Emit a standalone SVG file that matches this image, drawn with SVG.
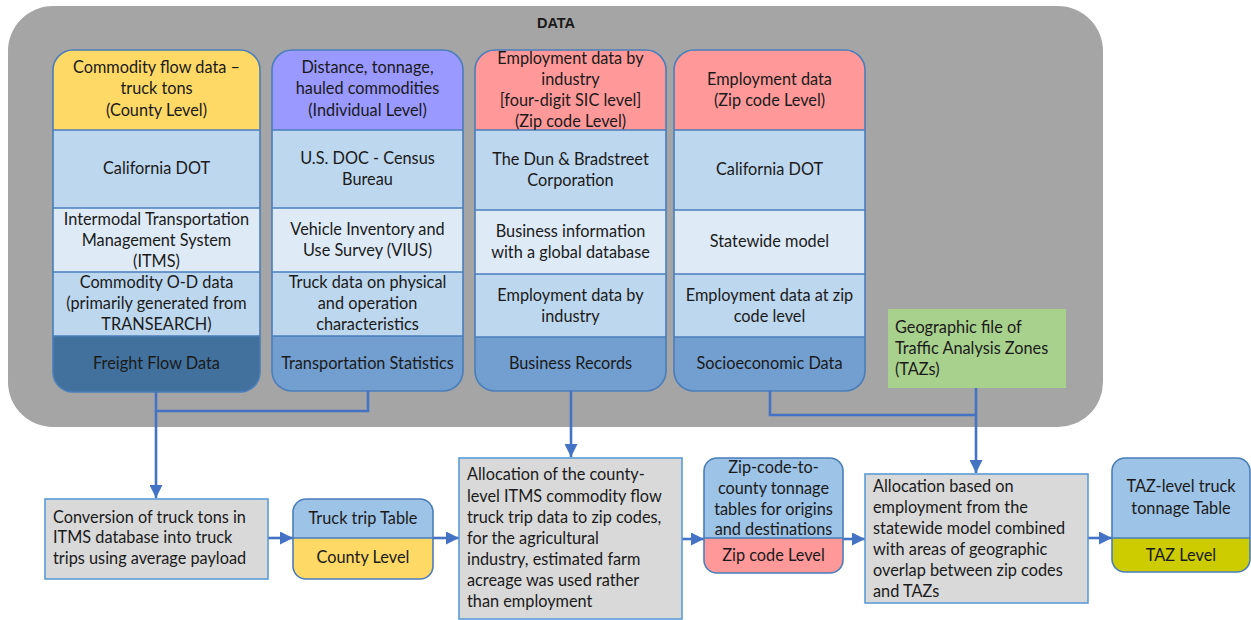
<svg xmlns="http://www.w3.org/2000/svg" width="1251" height="620" viewBox="0 0 1251 620">
<style>
.t{font-family:Lato,"Liberation Sans",sans-serif;font-size:16.3px;fill:#1a1a1a}
.c{text-anchor:middle}
.out{fill:none;stroke:#4a7ebb;stroke-width:1.6}
.dv{stroke:#4a7ebb;stroke-width:1.4}
.conn{fill:none;stroke:#4472c4;stroke-width:2.6}
.arr{marker-end:url(#ah)}
.proc{fill:#d9d9d9;stroke:#5b9bd5;stroke-width:1.6}
</style>
<defs>
<marker id="ah" viewBox="0 0 10 10" refX="10" refY="5" markerWidth="13" markerHeight="13" markerUnits="userSpaceOnUse" orient="auto">
<path d="M0,0 L10,5 L0,10 z" fill="#4472c4"/>
</marker>
<clipPath id="k1"><rect x="53" y="50" width="207" height="342" rx="20"/></clipPath>
<clipPath id="k2"><rect x="272" y="50" width="191" height="341" rx="20"/></clipPath>
<clipPath id="k3"><rect x="475" y="50" width="191" height="341" rx="20"/></clipPath>
<clipPath id="k4"><rect x="674" y="50" width="191" height="341" rx="20"/></clipPath>
<clipPath id="k5"><rect x="293" y="499" width="140" height="80" rx="13"/></clipPath>
<clipPath id="k6"><rect x="704" y="458" width="139" height="115" rx="13"/></clipPath>
<clipPath id="k7"><rect x="1112" y="458" width="138" height="114" rx="13"/></clipPath>
</defs>

<g id="data-container">
<rect x="8" y="6" width="1095" height="421" rx="45" fill="#a5a5a5"/>
<text x="556" y="28" class="c" style="font-family:'Liberation Sans',Arial,sans-serif;font-weight:bold;font-size:14.5px;fill:#1a1a1a">DATA</text>
</g>

<g id="col-freight">
<g clip-path="url(#k1)">
<rect x="53" y="50" width="207" height="80" fill="#ffd966"/>
<rect x="53" y="130" width="207" height="78" fill="#bdd7ee"/>
<rect x="53" y="208" width="207" height="64" fill="#deebf7"/>
<rect x="53" y="272" width="207" height="64" fill="#bdd7ee"/>
<rect x="53" y="336" width="207" height="56" fill="#41719c"/>
</g>
<line class="dv" x1="53" y1="130" x2="260" y2="130"/>
<line class="dv" x1="53" y1="208" x2="260" y2="208"/>
<line class="dv" x1="53" y1="272" x2="260" y2="272"/>
<line class="dv" x1="53" y1="336" x2="260" y2="336"/>
<rect class="out" x="53" y="50" width="207" height="342" rx="20"/>
<text class="t c" x="156.5" y="73">Commodity flow data –</text>
<text class="t c" x="156.5" y="94">truck tons</text>
<text class="t c" x="156.5" y="116">(County Level)</text>
<text class="t c" x="156.5" y="174">California DOT</text>
<text class="t c" x="156.5" y="225">Intermodal Transportation</text>
<text class="t c" x="156.5" y="246">Management System</text>
<text class="t c" x="156.5" y="267">(ITMS)</text>
<text class="t c" x="156.5" y="288">Commodity O-D data</text>
<text class="t c" x="156.5" y="309">(primarily generated from</text>
<text class="t c" x="156.5" y="330">TRANSEARCH)</text>
<text class="t c" x="156.5" y="369">Freight Flow Data</text>
</g>

<g id="col-transport">
<g clip-path="url(#k2)">
<rect x="272" y="50" width="191" height="80" fill="#9999ff"/>
<rect x="272" y="130" width="191" height="78" fill="#bdd7ee"/>
<rect x="272" y="208" width="191" height="64" fill="#deebf7"/>
<rect x="272" y="272" width="191" height="64" fill="#bdd7ee"/>
<rect x="272" y="336" width="191" height="55" fill="#729fcf"/>
</g>
<line class="dv" x1="272" y1="130" x2="463" y2="130"/>
<line class="dv" x1="272" y1="208" x2="463" y2="208"/>
<line class="dv" x1="272" y1="272" x2="463" y2="272"/>
<line class="dv" x1="272" y1="336" x2="463" y2="336"/>
<rect class="out" x="272" y="50" width="191" height="341" rx="20"/>
<text class="t c" x="367.5" y="73">Distance, tonnage,</text>
<text class="t c" x="367.5" y="94">hauled commodities</text>
<text class="t c" x="367.5" y="116">(Individual Level)</text>
<text class="t c" x="367.5" y="164">U.S. DOC - Census</text>
<text class="t c" x="367.5" y="185">Bureau</text>
<text class="t c" x="367.5" y="235">Vehicle Inventory and</text>
<text class="t c" x="367.5" y="256">Use Survey (VIUS)</text>
<text class="t c" x="367.5" y="288">Truck data on physical</text>
<text class="t c" x="367.5" y="309">and operation</text>
<text class="t c" x="367.5" y="330">characteristics</text>
<text class="t c" x="367.5" y="369">Transportation Statistics</text>
</g>

<g id="col-business">
<g clip-path="url(#k3)">
<rect x="475" y="50" width="191" height="80" fill="#ff9999"/>
<rect x="475" y="130" width="191" height="80" fill="#bdd7ee"/>
<rect x="475" y="210" width="191" height="64" fill="#deebf7"/>
<rect x="475" y="274" width="191" height="63" fill="#bdd7ee"/>
<rect x="475" y="337" width="191" height="54" fill="#729fcf"/>
</g>
<line class="dv" x1="475" y1="130" x2="666" y2="130"/>
<line class="dv" x1="475" y1="210" x2="666" y2="210"/>
<line class="dv" x1="475" y1="274" x2="666" y2="274"/>
<line class="dv" x1="475" y1="337" x2="666" y2="337"/>
<rect class="out" x="475" y="50" width="191" height="341" rx="20"/>
<text class="t c" x="570.5" y="64">Employment data by</text>
<text class="t c" x="570.5" y="85">industry</text>
<text class="t c" x="570.5" y="106">[four-digit SIC level]</text>
<text class="t c" x="570.5" y="127">(Zip code Level)</text>
<text class="t c" x="570.5" y="165">The Dun &amp; Bradstreet</text>
<text class="t c" x="570.5" y="186">Corporation</text>
<text class="t c" x="570.5" y="237">Business information</text>
<text class="t c" x="570.5" y="258">with a global database</text>
<text class="t c" x="570.5" y="301">Employment data by</text>
<text class="t c" x="570.5" y="322">industry</text>
<text class="t c" x="570.5" y="369">Business Records</text>
</g>

<g id="col-socio">
<g clip-path="url(#k4)">
<rect x="674" y="50" width="191" height="80" fill="#ff9999"/>
<rect x="674" y="130" width="191" height="80" fill="#bdd7ee"/>
<rect x="674" y="210" width="191" height="64" fill="#deebf7"/>
<rect x="674" y="274" width="191" height="63" fill="#bdd7ee"/>
<rect x="674" y="337" width="191" height="54" fill="#729fcf"/>
</g>
<line class="dv" x1="674" y1="130" x2="865" y2="130"/>
<line class="dv" x1="674" y1="210" x2="865" y2="210"/>
<line class="dv" x1="674" y1="274" x2="865" y2="274"/>
<line class="dv" x1="674" y1="337" x2="865" y2="337"/>
<rect class="out" x="674" y="50" width="191" height="341" rx="20"/>
<text class="t c" x="769.5" y="85">Employment data</text>
<text class="t c" x="769.5" y="106">(Zip code Level)</text>
<text class="t c" x="769.5" y="175">California DOT</text>
<text class="t c" x="769.5" y="247">Statewide model</text>
<text class="t c" x="769.5" y="301">Employment data at zip</text>
<text class="t c" x="769.5" y="322">code level</text>
<text class="t c" x="769.5" y="369">Socioeconomic Data</text>
</g>

<g id="geo-file">
<rect x="888" y="309" width="178" height="79" fill="#a9d18e"/>
<text class="t" x="895" y="333">Geographic file of</text>
<text class="t" x="895" y="354">Traffic Analysis Zones</text>
<text class="t" x="895" y="375">(TAZs)</text>
</g>

<g id="connectors">
<path class="conn" d="M156,392 V411 H368 V391"/>
<path class="conn arr" d="M156,411 V498"/>
<path class="conn arr" d="M571,391 V457"/>
<path class="conn" d="M770,391 V415 H976"/>
<path class="conn arr" d="M976,388 V473"/>
<path class="conn arr" d="M268,538 H293"/>
<path class="conn arr" d="M433,538 H459"/>
<path class="conn arr" d="M682,539 H704"/>
<path class="conn arr" d="M843,539 H865"/>
<path class="conn arr" d="M1088,538 H1112"/>
</g>

<g id="conversion">
<rect class="proc" x="45" y="499" width="223" height="80"/>
<text class="t" x="53" y="523">Conversion of truck tons in</text>
<text class="t" x="53" y="543">ITMS database into truck</text>
<text class="t" x="53" y="564">trips using average payload</text>
</g>

<g id="truck-trip-table">
<g clip-path="url(#k5)">
<rect x="293" y="499" width="140" height="39" fill="#9dc3e6"/>
<rect x="293" y="538" width="140" height="41" fill="#ffd966"/>
</g>
<line class="dv" x1="293" y1="538" x2="433" y2="538"/>
<rect class="out" x="293" y="499" width="140" height="80" rx="13"/>
<text class="t c" x="363" y="524">Truck trip Table</text>
<text class="t c" x="363" y="563">County Level</text>
</g>

<g id="allocation-zip">
<rect class="proc" x="459" y="458" width="223" height="161"/>
<text class="t" x="467" y="480">Allocation of the county-</text>
<text class="t" x="467" y="502">level ITMS commodity flow</text>
<text class="t" x="467" y="523">truck trip data to zip codes,</text>
<text class="t" x="467" y="544">for the agricultural</text>
<text class="t" x="467" y="565">industry, estimated farm</text>
<text class="t" x="467" y="586">acreage was used rather</text>
<text class="t" x="467" y="607">than employment</text>
</g>

<g id="zip-table">
<g clip-path="url(#k6)">
<rect x="704" y="458" width="139" height="80" fill="#9dc3e6"/>
<rect x="704" y="538" width="139" height="35" fill="#ff9999"/>
</g>
<line class="dv" x1="704" y1="538" x2="843" y2="538"/>
<rect class="out" x="704" y="458" width="139" height="115" rx="13"/>
<text class="t c" x="773.5" y="473">Zip-code-to-</text>
<text class="t c" x="773.5" y="494">county tonnage</text>
<text class="t c" x="773.5" y="515">tables for origins</text>
<text class="t c" x="773.5" y="535">and destinations</text>
<text class="t c" x="773.5" y="561">Zip code Level</text>
</g>

<g id="allocation-taz">
<rect class="proc" x="865" y="474" width="223" height="129"/>
<text class="t" x="873" y="492">Allocation based on</text>
<text class="t" x="873" y="513">employment from the</text>
<text class="t" x="873" y="534">statewide model combined</text>
<text class="t" x="873" y="555">with areas of geographic</text>
<text class="t" x="873" y="576">overlap between zip codes</text>
<text class="t" x="873" y="597">and TAZs</text>
</g>

<g id="taz-table">
<g clip-path="url(#k7)">
<rect x="1112" y="458" width="138" height="80" fill="#9dc3e6"/>
<rect x="1112" y="538" width="138" height="34" fill="#cccc00"/>
</g>
<line class="dv" x1="1112" y1="538" x2="1250" y2="538"/>
<rect class="out" x="1112" y="458" width="138" height="114" rx="13"/>
<text class="t c" x="1181" y="492">TAZ-level truck</text>
<text class="t c" x="1181" y="514">tonnage Table</text>
<text class="t c" x="1181" y="561">TAZ Level</text>
</g>
</svg>
